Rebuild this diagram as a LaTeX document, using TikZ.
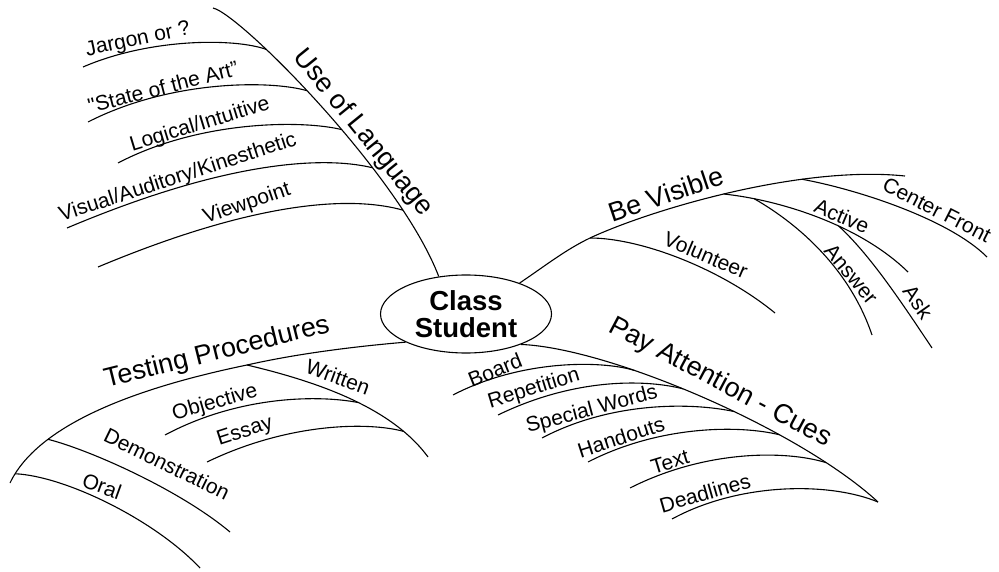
\documentclass[tikz,border=0pt]{standalone}
\usepackage{fontspec}
\setmainfont{Liberation Sans}
\usetikzlibrary{positioning, shapes.geometric}

\begin{document}
\begin{tikzpicture}[
  x=1pt, y=-1pt,
  hub/.style={draw, ellipse, line width=1.1pt, minimum width=171pt, minimum height=78pt, inner sep=0pt, align=center, font=\fontsize{27.5}{27}\selectfont\bfseries},
  br/.style={line width=1.1pt},
  lbl/.style={inner sep=0pt, font=\fontsize{21}{24}\selectfont},
  biglbl/.style={inner sep=0pt, font=\fontsize{27}{30}\selectfont}
]
\useasboundingbox (0,0) rectangle (999,572);

\node[hub] (cs) at (466,314) {Class\\Student};

\coordinate (langTop) at (213,8);
\coordinate (eJar) at (83,67);
\coordinate (eArt) at (88,122);
\coordinate (eLog) at (118,163);
\coordinate (eVis) at (67,228);
\coordinate (eView) at (98,267);

\draw[br] (langTop) .. controls (240,14) and (400,175) .. (cs.126)
  coordinate[pos=0.3] (jJar) coordinate[pos=0.45] (jArt)
  coordinate[pos=0.57] (jLog) coordinate[pos=0.68] (jVis)
  coordinate[pos=0.8] (jView);
\draw[br] (jJar) .. controls (235,38) and (150,38) .. (eJar);
\draw[br] (jArt) .. controls (270,80) and (170,80) .. (eArt);
\draw[br] (jLog) .. controls (303,120) and (200,120) .. (eLog);
\draw[br] (jVis) .. controls (333,158) and (240,155) .. (eVis);
\draw[br] (jView) .. controls (360,198) and (270,195) .. (eView);

\node[biglbl, rotate=-51] (lang) at (363,133) {Use of Language};
\node[lbl, rotate=12] (jar) at (138,40) {Jargon or ?};
\node[lbl, rotate=14.5] (art) at (163,87) {\textquotedbl State of the Art''};
\node[lbl, rotate=17] (logi) at (200,125) {Logical/Intuitive};
\node[lbl, rotate=18] (vak) at (178,178) {Visual/Auditory/Kinesthetic};
\node[lbl, rotate=19] (view) at (247,204) {Viewpoint};

\coordinate (jVol) at (590,238);
\coordinate (visEnd) at (905,176);
\coordinate (eVol) at (775,313);
\coordinate (eCF) at (987,257);
\coordinate (eAct) at (908,272);
\coordinate (eAns) at (872,335);
\coordinate (eAsk) at (932,348);

\draw[br] (cs.30) .. controls (545,266) and (565,250) .. (jVol);
\draw[br] (jVol) .. controls (650,210) and (800,165) .. (visEnd)
  coordinate[pos=0.48] (jAct) coordinate[pos=0.7] (jCF);
\draw[br] (jVol) .. controls (640,238) and (720,268) .. (eVol);
\draw[br] (jCF) .. controls (860,190) and (950,220) .. (eCF);
\draw[br] (jAct) .. controls (780,200) and (860,225) .. (eAct)
  coordinate[pos=0.17] (jAns) coordinate[pos=0.6] (jAsk);
\draw[br] (jAns) .. controls (800,225) and (850,270) .. (eAns);
\draw[br] (jAsk) .. controls (870,255) and (900,300) .. (eAsk);

\node[biglbl, rotate=18.5] (vis) at (666,194) {Be Visible};
\node[lbl, rotate=-23] (vol) at (706,255) {Volunteer};
\node[lbl, rotate=-27] (cf) at (937,210) {Center Front};
\node[lbl, rotate=-23] (act) at (842,216) {Active};
\node[lbl, rotate=-50] (ans) at (851,274) {Answer};
\node[lbl, rotate=-55] (ask) at (918,302) {Ask};

\coordinate (jWri) at (247,365);
\coordinate (testEnd) at (10,483);
\coordinate (eWri) at (428,457);
\coordinate (eObj) at (165,435);
\coordinate (eEss) at (207,462);
\coordinate (eDem) at (230,532);
\coordinate (eOral) at (200,568);

\draw[br] (cs.205) .. controls (360,346) and (300,353) .. (jWri);
\draw[br] (jWri) .. controls (150,385) and (40,420) .. (testEnd)
  coordinate[pos=0.74] (jDem) coordinate[pos=0.95] (jOral);
\draw[br] (jWri) .. controls (310,380) and (390,405) .. (eWri)
  coordinate[pos=0.56] (jObj) coordinate[pos=0.82] (jEss);
\draw[br] (jObj) .. controls (320,395) and (240,395) .. (eObj);
\draw[br] (jEss) .. controls (370,422) and (290,422) .. (eEss);
\draw[br] (jDem) .. controls (90,450) and (180,490) .. (eDem);
\draw[br] (jOral) .. controls (65,476) and (155,520) .. (eOral);

\node[biglbl, rotate=14] (test) at (217,353) {Testing Procedures};
\node[lbl, rotate=-20] (wri) at (338,377) {Written};
\node[lbl, rotate=16] (obj) at (215,403) {Objective};
\node[lbl, rotate=18] (ess) at (245,432) {Essay};
\node[lbl, rotate=-26] (dem) at (167,464) {Demonstration};
\node[lbl, rotate=-20] (oral) at (102,486) {Oral};

\coordinate (cuesEnd) at (878,502);
\coordinate (eBrd) at (453,395);
\coordinate (eRep) at (498,415);
\coordinate (eSpw) at (542,438);
\coordinate (eHnd) at (588,462);
\coordinate (eTxt) at (630,488);
\coordinate (eDdl) at (672,519);

\draw[br] (cs.331) .. controls (610,348) and (800,430) .. (cuesEnd)
  coordinate[pos=0.33] (jBrd) coordinate[pos=0.45] (jRep)
  coordinate[pos=0.575] (jSpw) coordinate[pos=0.69] (jHnd)
  coordinate[pos=0.82] (jTxt);
\draw[br] (jBrd) .. controls (600,360) and (520,360) .. (eBrd);
\draw[br] (jRep) .. controls (640,378) and (570,380) .. (eRep);
\draw[br] (jSpw) .. controls (690,402) and (610,402) .. (eSpw);
\draw[br] (jHnd) .. controls (740,425) and (660,425) .. (eHnd);
\draw[br] (jTxt) .. controls (785,450) and (705,450) .. (eTxt);
\draw[br] (cuesEnd) .. controls (830,482) and (740,482) .. (eDdl);

\node[biglbl, rotate=-28] (cues) at (720,383) {Pay Attention - Cues};
\node[lbl, rotate=22] (brd) at (495,370) {Board};
\node[lbl, rotate=17] (rep) at (534,389) {Repetition};
\node[lbl, rotate=15] (spw) at (592,410) {Special Words};
\node[lbl, rotate=18] (hnd) at (621,437) {Handouts};
\node[lbl, rotate=17] (txt) at (670,462) {Text};
\node[lbl, rotate=16] (ddl) at (705,493) {Deadlines};

\end{tikzpicture}
\end{document}
